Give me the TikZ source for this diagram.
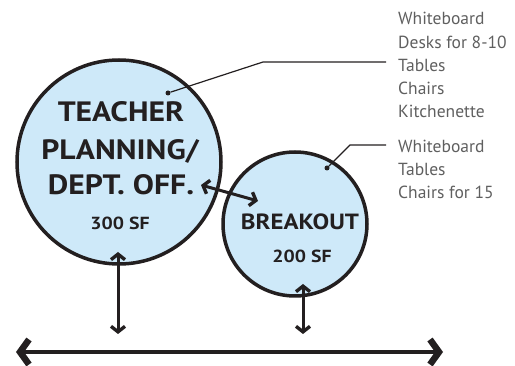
\documentclass[tikz,border=0pt]{standalone}
\usepackage{fontspec}
\setmainfont{PT Sans}
\newfontfamily\roomfont{PT Sans}[FakeStretch=1.13]
\usetikzlibrary{arrows.meta}
\definecolor{roomblue}{RGB}{206,233,249}
\definecolor{ink}{RGB}{35,31,32}
\definecolor{listgray}{RGB}{95,95,95}

\begin{document}
\begin{tikzpicture}[x=1pt,y=-1pt,
  room/.style = {draw=ink, circle, fill=roomblue, line width=3.5pt, inner sep=0pt},
  bigname/.style = {font=\roomfont\bfseries\fontsize{28}{28}\selectfont, text=ink, anchor=base, inner sep=0pt},
  midname/.style = {font=\roomfont\bfseries\fontsize{22}{22}\selectfont, text=ink, anchor=base, inner sep=0pt},
  area/.style = {font=\roomfont\bfseries\fontsize{17.5}{17.5}\selectfont, text=ink, anchor=base, inner sep=0pt},
  items/.style = {font=\fontsize{17.5}{23.3}\selectfont, text=listgray, align=left, anchor=base west, inner sep=0pt},
  link/.style = {draw=ink, line width=3pt, {Straight Barb[length=5.5pt,width=14pt,line width=3.4pt]}-{Straight Barb[length=5.5pt,width=14pt,line width=3.4pt]}},
  axis/.style = {draw=ink, line width=4.5pt, {Straight Barb[length=9pt,width=25pt,line width=6.5pt]}-{Straight Barb[length=9pt,width=25pt,line width=6.5pt]}},
  leader/.style = {draw=ink, line width=1.2pt},
  dot/.style = {fill=ink, circle, inner sep=0pt, minimum size=5pt}]
\useasboundingbox (0,0) rectangle (515,366);

% rooms
\node[room, minimum size=204pt] (teacher) at (119,162) {};
\node[room, minimum size=144pt] (breakout) at (295,224) {};

% room names
\node[bigname] (t1) at (121,122) {TEACHER};
\node[bigname] (t2) at (120,160) {PLANNING/};
\node[bigname] (t3) at (121,195) {DEPT. OFF.};
\node[area] (t4) at (120,230) {300 SF};
\node[midname] (b1) at (300,230) {BREAKOUT};
\node[area] (b2) at (302,263) {200 SF};

% furniture lists (anchored at the last line)
\node[items] (tlist) at (398,118) {Whiteboard\\Desks for 8-10\\Tables\\Chairs\\Kitchenette};
\node[items] (blist) at (398,199) {Whiteboard\\Tables\\Chairs for 15};

% leaders
\node[dot] (tdot) at (168,93) {};
\node[dot] (bdot) at (327,168) {};
\coordinate (tbend) at (263,62);
\coordinate (tend) at (386,62);
\coordinate (bbend) at (350,145);
\coordinate (bend) at (386,145);
\draw[leader] (tdot) -- (tbend) -- (tend);
\draw[leader] (bdot) -- (bbend) -- (bend);

% connections
\coordinate (axisL) at (16,352);
\coordinate (axisR) at (443,352);
\coordinate (tfoot) at (118,334);
\coordinate (bfoot) at (303,334);
\coordinate (ttop) at (118,252);
\coordinate (btop) at (303,284);
\coordinate (tside) at (201,185);
\coordinate (bside) at (258,201);
\draw[axis] (axisL) -- (axisR);
\draw[link] (ttop) -- (tfoot);
\draw[link] (btop) -- (bfoot);
\draw[link] (tside) -- (bside);
\end{tikzpicture}
\end{document}
